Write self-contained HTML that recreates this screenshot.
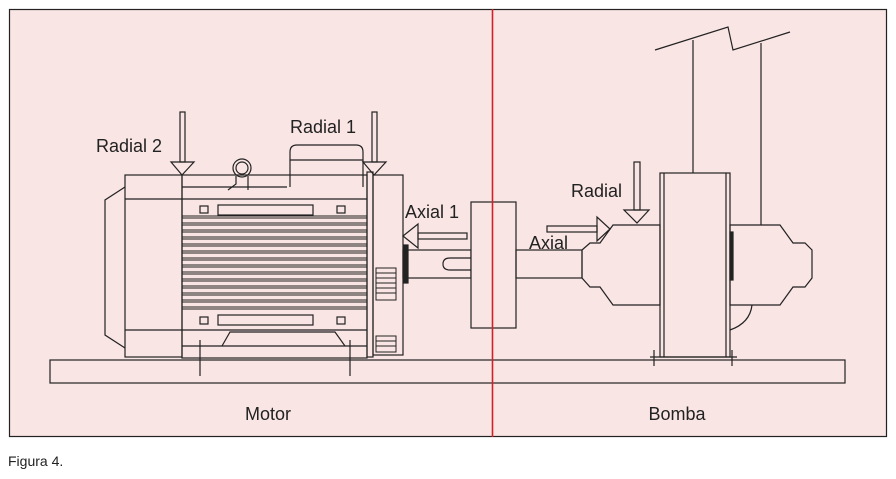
<!DOCTYPE html>
<html><head><meta charset="utf-8"><style>
html,body{margin:0;padding:0;background:#fff;}
svg{display:block;font-family:"Liberation Sans",sans-serif;}
</style></head><body>
<svg width="896" height="479" viewBox="0 0 896 479" xmlns="http://www.w3.org/2000/svg">
<rect x="9.5" y="9.5" width="877" height="427" fill="#f9e5e3" stroke="#222" stroke-width="1.2"/>
<g fill="none" stroke="#222" stroke-width="1.2">
<rect x="50" y="360" width="795" height="23" fill="#f9e5e3"/>
<rect x="125" y="175" width="57" height="182"/>
<polyline points="125,187 105,200 105,335 125,348"/>
<line x1="125" y1="199" x2="182" y2="199"/>
<line x1="125" y1="330" x2="182" y2="330"/>
<rect x="182" y="175" width="185" height="183"/>
<line x1="182" y1="187" x2="287" y2="187"/>
<line x1="182" y1="199" x2="367" y2="199"/>
<line x1="182" y1="346" x2="367" y2="346"/>
<line x1="182" y1="330" x2="367" y2="330"/>
<rect x="218" y="205" width="95" height="10"/>
<rect x="218" y="315" width="95" height="10"/>
<rect x="200" y="206" width="8" height="7"/>
<rect x="337" y="206" width="8" height="7"/>
<rect x="200" y="317" width="8" height="7"/>
<rect x="337" y="317" width="8" height="7"/>
<g stroke-width="1">
<line x1="182" y1="216" x2="367" y2="216"/><line x1="182" y1="218" x2="367" y2="218"/>
<line x1="182" y1="223" x2="367" y2="223"/><line x1="182" y1="225" x2="367" y2="225"/>
<line x1="182" y1="230" x2="367" y2="230"/><line x1="182" y1="232" x2="367" y2="232"/>
<line x1="182" y1="237" x2="367" y2="237"/><line x1="182" y1="239" x2="367" y2="239"/>
<line x1="182" y1="244" x2="367" y2="244"/><line x1="182" y1="246" x2="367" y2="246"/>
<line x1="182" y1="251" x2="367" y2="251"/><line x1="182" y1="253" x2="367" y2="253"/>
<line x1="182" y1="258" x2="367" y2="258"/><line x1="182" y1="260" x2="367" y2="260"/>
<line x1="182" y1="265" x2="367" y2="265"/><line x1="182" y1="267" x2="367" y2="267"/>
<line x1="182" y1="272" x2="367" y2="272"/><line x1="182" y1="274" x2="367" y2="274"/>
<line x1="182" y1="279" x2="367" y2="279"/><line x1="182" y1="281" x2="367" y2="281"/>
<line x1="182" y1="286" x2="367" y2="286"/><line x1="182" y1="288" x2="367" y2="288"/>
<line x1="182" y1="293" x2="367" y2="293"/><line x1="182" y1="295" x2="367" y2="295"/>
<line x1="182" y1="300" x2="367" y2="300"/><line x1="182" y1="302" x2="367" y2="302"/>
<line x1="182" y1="307" x2="367" y2="307"/><line x1="182" y1="309" x2="367" y2="309"/>
</g>
<polyline points="222,346 230,332 335,332 345,346"/>
<line x1="200" y1="340" x2="200" y2="376"/>
<line x1="350" y1="340" x2="350" y2="376"/>
<path d="M290,187 V152 Q290,145 297,145 H356 Q363,145 363,152 V187"/>
<line x1="290" y1="160" x2="363" y2="160"/>
<circle cx="242" cy="168" r="9"/>
<circle cx="242" cy="168" r="6"/>
<polyline points="236,176 236,184 228,190"/>
<polyline points="248,176 248,190"/>
<rect x="367" y="172" width="6" height="185"/>
<rect x="373" y="175" width="30" height="180"/>
<g stroke-width="1">
<rect x="376" y="268" width="20" height="32"/>
<line x1="376" y1="273" x2="396" y2="273"/><line x1="376" y1="278" x2="396" y2="278"/>
<line x1="376" y1="283" x2="396" y2="283"/><line x1="376" y1="288" x2="396" y2="288"/>
<line x1="376" y1="293" x2="396" y2="293"/>
<rect x="376" y="336" width="20" height="16"/>
<line x1="376" y1="341" x2="396" y2="341"/><line x1="376" y1="346" x2="396" y2="346"/>
</g>
<rect x="403" y="250" width="68" height="28"/>
<rect x="404" y="245" width="4" height="38" fill="#222"/>
<path d="M471,258 H450 Q443,258 443,264 Q443,270 450,270 H471"/>
<rect x="471" y="202" width="45" height="126" fill="#f9e5e3"/>
<rect x="516" y="250" width="66" height="28"/>
<polygon points="582,250 590,243 600,243 613,225 660,225 660,305 613,305 600,287 590,287 582,278"/>
<rect x="660" y="173" width="70" height="184"/>
<line x1="664" y1="173" x2="664" y2="357"/>
<line x1="726" y1="173" x2="726" y2="357"/>
<polygon points="730,225 780,225 793,243 805,243 812,250 812,278 805,287 793,287 780,305 730,305"/>
<rect x="730" y="232" width="3" height="48" fill="#222"/>
<path d="M730,330 Q750,323 752,305"/>
<line x1="650" y1="357" x2="737" y2="357"/>
<line x1="654" y1="350" x2="654" y2="366"/>
<line x1="732" y1="350" x2="732" y2="366"/>
<line x1="693" y1="40" x2="693" y2="173"/>
<line x1="761" y1="43" x2="761" y2="225"/>
<polyline points="655,50 728,27 733,50 790,32"/>
<rect x="180" y="112" width="5" height="50"/>
<polygon points="171,162 194,162 182,175"/>
<rect x="372" y="112" width="5" height="50"/>
<polygon points="363,162 386,162 374,175"/>
<rect x="418" y="233" width="49" height="6"/>
<polygon points="403,236 418,224 418,248"/>
<rect x="547" y="226" width="50" height="6"/>
<polygon points="597,217 597,241 610,229"/>
<rect x="634" y="162" width="6" height="48"/>
<polygon points="624,210 649,210 637,223"/>
</g>
<line x1="492.5" y1="9" x2="492.5" y2="437" stroke="#d0202a" stroke-width="1.6"/>
<g fill="#222" font-size="18">
<text x="96" y="152">Radial 2</text>
<text x="290" y="133">Radial 1</text>
<text x="405" y="218">Axial 1</text>
<text x="571" y="197">Radial</text>
<text x="529" y="249">Axial</text>
<text x="268" y="420" text-anchor="middle">Motor</text>
<text x="677" y="420" text-anchor="middle">Bomba</text>
</g>
<text x="8" y="466" font-size="14" fill="#222">Figura 4.</text>
</svg>
</body></html>
